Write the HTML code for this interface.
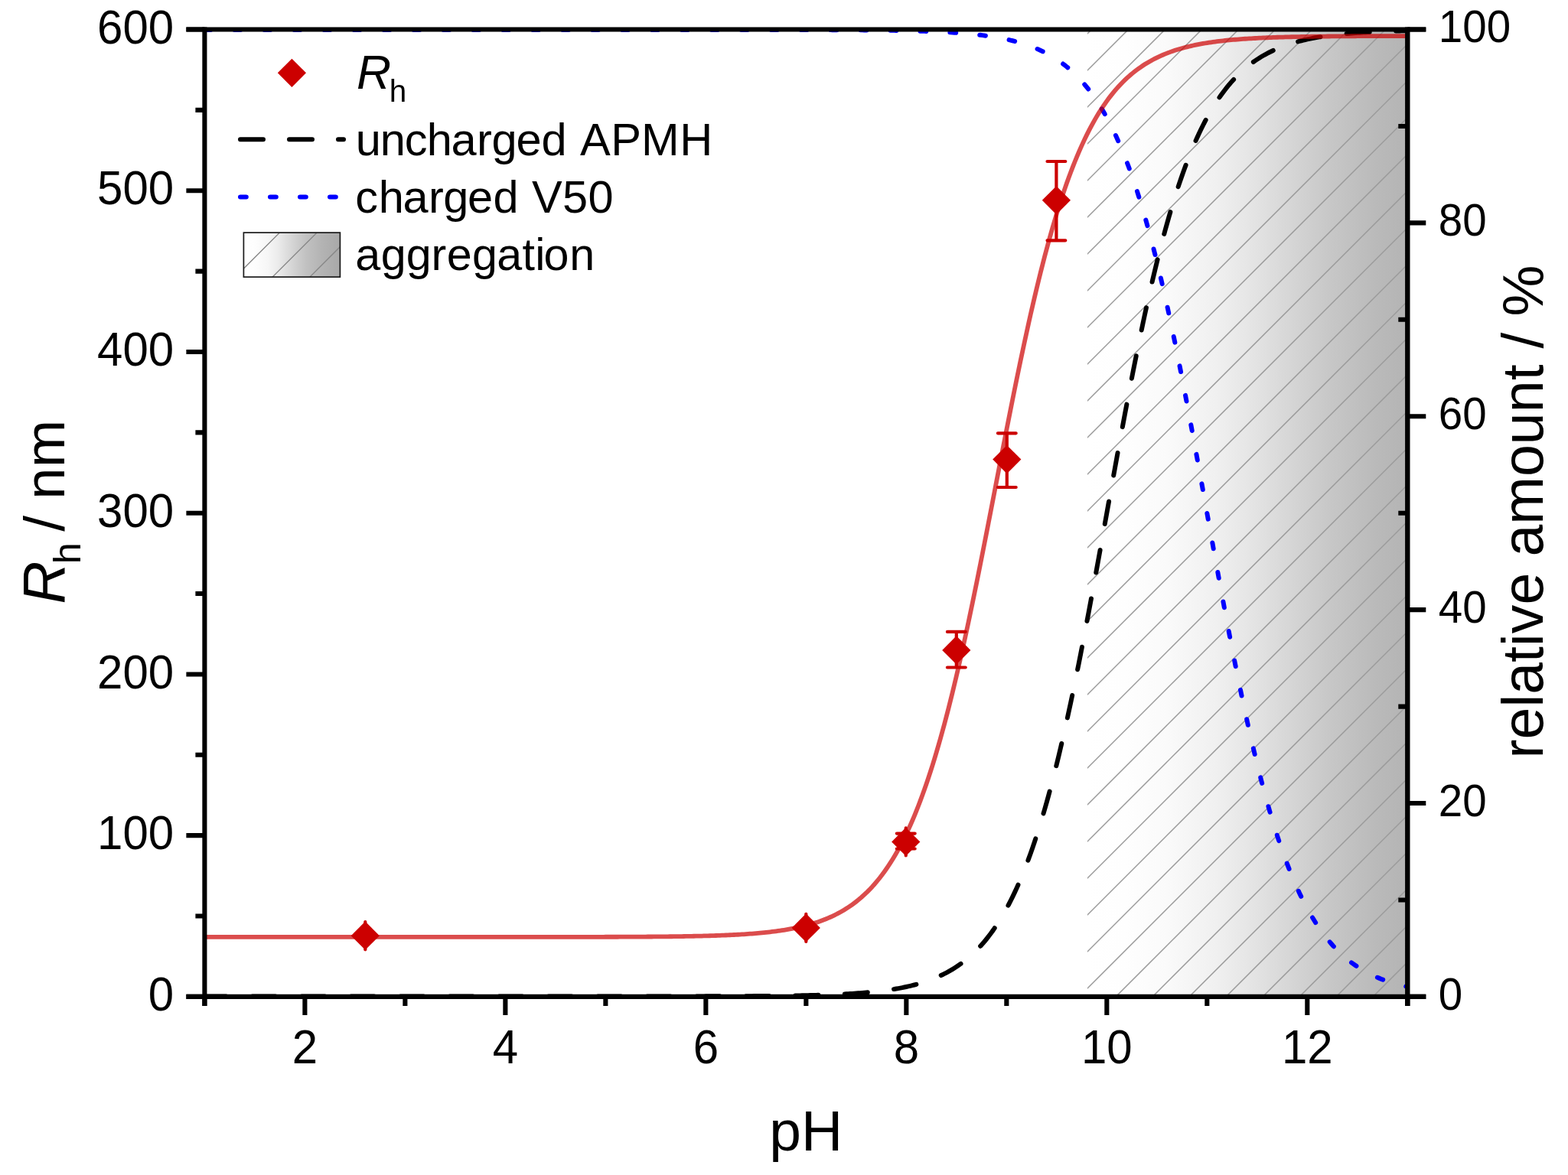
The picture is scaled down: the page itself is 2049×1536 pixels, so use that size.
<!DOCTYPE html>
<html lang="en"><head><meta charset="utf-8"><title>Rh vs pH</title>
<style>html,body{margin:0;padding:0;background:#fff}body{width:2049px;height:1536px}svg{display:block}text{font-family:"Liberation Sans",sans-serif;fill:#000}</style>
</head><body>
<svg width="2049" height="1536" viewBox="0 0 2049 1536">
<defs>
<linearGradient id="g" x1="0" y1="0" x2="1" y2="0"><stop offset="0" stop-color="#ffffff"/><stop offset="0.12" stop-color="#fefefe"/><stop offset="0.25" stop-color="#fafafa"/><stop offset="0.4" stop-color="#f0f0f0"/><stop offset="0.5" stop-color="#e6e6e6"/><stop offset="0.6" stop-color="#dadada"/><stop offset="0.75" stop-color="#c8c8c8"/><stop offset="0.9" stop-color="#bababa"/><stop offset="1" stop-color="#b4b4b4"/></linearGradient>
<linearGradient id="g2" x1="0" y1="0" x2="1" y2="0"><stop offset="0" stop-color="#ffffff"/><stop offset="0.12" stop-color="#fdfdfd"/><stop offset="0.25" stop-color="#f6f6f6"/><stop offset="0.35" stop-color="#ececec"/><stop offset="0.45" stop-color="#dddddd"/><stop offset="0.55" stop-color="#cecece"/><stop offset="0.65" stop-color="#c1c1c1"/><stop offset="0.8" stop-color="#b4b4b4"/><stop offset="1" stop-color="#a8a8a8"/></linearGradient>
<clipPath id="cp"><rect x="1421" y="38.5" width="418.3" height="1264.4"/></clipPath>
<clipPath id="cl"><rect x="318.4" y="304.1" width="126" height="58"/></clipPath>
<clipPath id="plot"><rect x="267.4" y="35.5" width="1571.9" height="1270.4"/></clipPath>
</defs>
<rect width="2049" height="1536" fill="#fff"/>
<rect x="1421" y="38.5" width="418.3" height="1264.4" fill="url(#g)"/>
<g clip-path="url(#cp)" stroke="#9a9a9a" stroke-width="1.5" fill="none">
<path d="M1419 -50 L1841.3 -472.3 M1419 -2 L1841.3 -424.3 M1419 46 L1841.3 -376.3 M1419 94 L1841.3 -328.3 M1419 142 L1841.3 -280.3 M1419 190 L1841.3 -232.3 M1419 238 L1841.3 -184.3 M1419 286 L1841.3 -136.3 M1419 334 L1841.3 -88.3 M1419 382 L1841.3 -40.3 M1419 430 L1841.3 7.7 M1419 478 L1841.3 55.7 M1419 526 L1841.3 103.7 M1419 574 L1841.3 151.7 M1419 622 L1841.3 199.7 M1419 670 L1841.3 247.7 M1419 718 L1841.3 295.7 M1419 766 L1841.3 343.7 M1419 814 L1841.3 391.7 M1419 862 L1841.3 439.7 M1419 910 L1841.3 487.7 M1419 958 L1841.3 535.7 M1419 1006 L1841.3 583.7 M1419 1054 L1841.3 631.7 M1419 1102 L1841.3 679.7 M1419 1150 L1841.3 727.7 M1419 1198 L1841.3 775.7 M1419 1246 L1841.3 823.7 M1419 1294 L1841.3 871.7 M1419 1342 L1841.3 919.7 M1419 1390 L1841.3 967.7 M1419 1438 L1841.3 1015.7 M1419 1486 L1841.3 1063.7 M1419 1534 L1841.3 1111.7 M1419 1582 L1841.3 1159.7 M1419 1630 L1841.3 1207.7 M1419 1678 L1841.3 1255.7 M1419 1726 L1841.3 1303.7"/>
</g>
<g fill="none" stroke-linecap="round" stroke-linejoin="round" clip-path="url(#plot)">
<path d="M267.4 38.9 L270.02 38.9 L272.64 38.9 L275.26 38.9 L277.88 38.9 L280.5 38.9 L283.12 38.9 L285.74 38.9 L288.36 38.9 L290.98 38.9 L293.6 38.9 L296.22 38.9 L298.84 38.9 L301.46 38.9 L304.08 38.9 L306.7 38.9 L309.32 38.9 L311.94 38.9 L314.56 38.9 L317.18 38.9 L319.8 38.9 L322.42 38.9 L325.04 38.9 L327.66 38.9 L330.28 38.9 L332.9 38.9 L335.52 38.9 L338.14 38.9 L340.76 38.9 L343.38 38.9 L346 38.9 L348.61 38.9 L351.23 38.9 L353.85 38.9 L356.47 38.9 L359.09 38.9 L361.71 38.9 L364.33 38.9 L366.95 38.9 L369.57 38.9 L372.19 38.9 L374.81 38.9 L377.43 38.9 L380.05 38.9 L382.67 38.9 L385.29 38.9 L387.91 38.9 L390.53 38.9 L393.15 38.9 L395.77 38.9 L398.39 38.9 L401.01 38.9 L403.63 38.9 L406.25 38.9 L408.87 38.9 L411.49 38.9 L414.11 38.9 L416.73 38.9 L419.35 38.9 L421.97 38.9 L424.59 38.9 L427.21 38.9 L429.83 38.9 L432.45 38.9 L435.07 38.9 L437.69 38.9 L440.31 38.9 L442.93 38.9 L445.55 38.9 L448.17 38.9 L450.79 38.9 L453.41 38.9 L456.03 38.9 L458.65 38.9 L461.27 38.9 L463.89 38.9 L466.51 38.9 L469.13 38.9 L471.75 38.9 L474.37 38.9 L476.99 38.9 L479.61 38.9 L482.23 38.9 L484.85 38.9 L487.47 38.9 L490.09 38.9 L492.71 38.9 L495.33 38.9 L497.95 38.9 L500.57 38.9 L503.18 38.9 L505.8 38.9 L508.42 38.9 L511.04 38.9 L513.66 38.9 L516.28 38.9 L518.9 38.9 L521.52 38.9 L524.14 38.9 L526.76 38.9 L529.38 38.9 L532 38.9 L534.62 38.9 L537.24 38.9 L539.86 38.9 L542.48 38.9 L545.1 38.9 L547.72 38.9 L550.34 38.9 L552.96 38.9 L555.58 38.9 L558.2 38.9 L560.82 38.9 L563.44 38.9 L566.06 38.9 L568.68 38.9 L571.3 38.9 L573.92 38.9 L576.54 38.9 L579.16 38.9 L581.78 38.9 L584.4 38.9 L587.02 38.9 L589.64 38.9 L592.26 38.9 L594.88 38.9 L597.5 38.9 L600.12 38.9 L602.74 38.9 L605.36 38.9 L607.98 38.9 L610.6 38.9 L613.22 38.9 L615.84 38.9 L618.46 38.9 L621.08 38.9 L623.7 38.9 L626.32 38.9 L628.94 38.9 L631.56 38.9 L634.18 38.9 L636.8 38.9 L639.42 38.9 L642.04 38.9 L644.66 38.9 L647.28 38.9 L649.9 38.9 L652.52 38.9 L655.14 38.9 L657.76 38.9 L660.38 38.9 L662.99 38.9 L665.61 38.9 L668.23 38.9 L670.85 38.9 L673.47 38.9 L676.09 38.9 L678.71 38.9 L681.33 38.9 L683.95 38.9 L686.57 38.9 L689.19 38.9 L691.81 38.9 L694.43 38.9 L697.05 38.9 L699.67 38.9 L702.29 38.9 L704.91 38.9 L707.53 38.9 L710.15 38.9 L712.77 38.9 L715.39 38.9 L718.01 38.9 L720.63 38.9 L723.25 38.9 L725.87 38.9 L728.49 38.9 L731.11 38.9 L733.73 38.9 L736.35 38.9 L738.97 38.9 L741.59 38.9 L744.21 38.9 L746.83 38.9 L749.45 38.9 L752.07 38.9 L754.69 38.9 L757.31 38.9 L759.93 38.9 L762.55 38.9 L765.17 38.9 L767.79 38.9 L770.41 38.9 L773.03 38.9 L775.65 38.9 L778.27 38.9 L780.89 38.9 L783.51 38.9 L786.13 38.9 L788.75 38.9 L791.37 38.9 L793.99 38.9 L796.61 38.9 L799.23 38.9 L801.85 38.9 L804.47 38.9 L807.09 38.9 L809.71 38.9 L812.33 38.9 L814.95 38.9 L817.57 38.9 L820.18 38.9 L822.8 38.9 L825.42 38.9 L828.04 38.9 L830.66 38.9 L833.28 38.9 L835.9 38.9 L838.52 38.9 L841.14 38.9 L843.76 38.9 L846.38 38.9 L849 38.9 L851.62 38.9 L854.24 38.9 L856.86 38.9 L859.48 38.9 L862.1 38.9 L864.72 38.9 L867.34 38.9 L869.96 38.91 L872.58 38.91 L875.2 38.91 L877.82 38.91 L880.44 38.91 L883.06 38.91 L885.68 38.91 L888.3 38.91 L890.92 38.91 L893.54 38.91 L896.16 38.91 L898.78 38.91 L901.4 38.91 L904.02 38.91 L906.64 38.91 L909.26 38.91 L911.88 38.91 L914.5 38.91 L917.12 38.91 L919.74 38.91 L922.36 38.91 L924.98 38.91 L927.6 38.91 L930.22 38.91 L932.84 38.92 L935.46 38.92 L938.08 38.92 L940.7 38.92 L943.32 38.92 L945.94 38.92 L948.56 38.92 L951.18 38.92 L953.8 38.92 L956.42 38.92 L959.04 38.92 L961.66 38.93 L964.28 38.93 L966.9 38.93 L969.52 38.93 L972.14 38.93 L974.75 38.93 L977.37 38.93 L979.99 38.93 L982.61 38.94 L985.23 38.94 L987.85 38.94 L990.47 38.94 L993.09 38.94 L995.71 38.95 L998.33 38.95 L1000.95 38.95 L1003.57 38.95 L1006.19 38.96 L1008.81 38.96 L1011.43 38.96 L1014.05 38.96 L1016.67 38.97 L1019.29 38.97 L1021.91 38.97 L1024.53 38.98 L1027.15 38.98 L1029.77 38.98 L1032.39 38.99 L1035.01 38.99 L1037.63 39 L1040.25 39 L1042.87 39.01 L1045.49 39.01 L1048.11 39.02 L1050.73 39.02 L1053.35 39.03 L1055.97 39.03 L1058.59 39.04 L1061.21 39.05 L1063.83 39.05 L1066.45 39.06 L1069.07 39.07 L1071.69 39.07 L1074.31 39.08 L1076.93 39.09 L1079.55 39.1 L1082.17 39.11 L1084.79 39.12 L1087.41 39.13 L1090.03 39.14 L1092.65 39.15 L1095.27 39.16 L1097.89 39.18 L1100.51 39.19 L1103.13 39.2 L1105.75 39.22 L1108.37 39.23 L1110.99 39.25 L1113.61 39.26 L1116.23 39.28 L1118.85 39.3 L1121.47 39.32 L1124.09 39.34 L1126.71 39.36 L1129.33 39.38 L1131.95 39.4 L1134.56 39.43 L1137.18 39.45 L1139.8 39.48 L1142.42 39.5 L1145.04 39.53 L1147.66 39.56 L1150.28 39.59 L1152.9 39.63 L1155.52 39.66 L1158.14 39.7 L1160.76 39.73 L1163.38 39.77 L1166 39.81 L1168.62 39.86 L1171.24 39.9 L1173.86 39.95 L1176.48 40 L1179.1 40.05 L1181.72 40.11 L1184.34 40.16 L1186.96 40.22 L1189.58 40.28 L1192.2 40.35 L1194.82 40.42 L1197.44 40.49 L1200.06 40.56 L1202.68 40.64 L1205.3 40.72 L1207.92 40.81 L1210.54 40.9 L1213.16 40.99 L1215.78 41.09 L1218.4 41.2 L1221.02 41.3 L1223.64 41.42 L1226.26 41.53 L1228.88 41.66 L1231.5 41.79 L1234.12 41.92 L1236.74 42.07 L1239.36 42.21 L1241.98 42.37 L1244.6 42.53 L1247.22 42.7 L1249.84 42.88 L1252.46 43.07 L1255.08 43.27 L1257.7 43.47 L1260.32 43.69 L1262.94 43.91 L1265.56 44.15 L1268.18 44.39 L1270.8 44.65 L1273.42 44.92 L1276.04 45.2 L1278.66 45.5 L1281.28 45.81 L1283.9 46.13 L1286.52 46.47 L1289.14 46.82 L1291.75 47.19 L1294.37 47.58 L1296.99 47.99 L1299.61 48.41 L1302.23 48.86 L1304.85 49.32 L1307.47 49.81 L1310.09 50.32 L1312.71 50.85 L1315.33 51.41 L1317.95 51.99 L1320.57 52.6 L1323.19 53.24 L1325.81 53.91 L1328.43 54.61 L1331.05 55.34 L1333.67 56.11 L1336.29 56.9 L1338.91 57.74 L1341.53 58.61 L1344.15 59.53 L1346.77 60.48 L1349.39 61.48 L1352.01 62.53 L1354.63 63.62 L1357.25 64.76 L1359.87 65.95 L1362.49 67.2 L1365.11 68.5 L1367.73 69.86 L1370.35 71.28 L1372.97 72.77 L1375.59 74.32 L1378.21 75.94 L1380.83 77.63 L1383.45 79.4 L1386.07 81.25 L1388.69 83.17 L1391.31 85.18 L1393.93 87.28 L1396.55 89.47 L1399.17 91.75 L1401.79 94.13 L1404.41 96.62 L1407.03 99.21 L1409.65 101.91 L1412.27 104.72 L1414.89 107.66 L1417.51 110.71 L1420.13 113.9 L1422.75 117.21 L1425.37 120.66 L1427.99 124.26 L1430.61 128 L1433.23 131.89 L1435.85 135.93 L1438.47 140.14 L1441.09 144.51 L1443.71 149.05 L1446.32 153.77 L1448.94 158.67 L1451.56 163.76 L1454.18 169.04 L1456.8 174.51 L1459.42 180.19 L1462.04 186.07 L1464.66 192.17 L1467.28 198.48 L1469.9 205.01 L1472.52 211.77 L1475.14 218.76 L1477.76 225.98 L1480.38 233.44 L1483 241.14 L1485.62 249.08 L1488.24 257.28 L1490.86 265.72 L1493.48 274.42 L1496.1 283.37 L1498.72 292.58 L1501.34 302.05 L1503.96 311.77 L1506.58 321.75 L1509.2 331.99 L1511.82 342.48 L1514.44 353.23 L1517.06 364.23 L1519.68 375.48 L1522.3 386.97 L1524.92 398.71 L1527.54 410.67 L1530.16 422.87 L1532.78 435.29 L1535.4 447.93 L1538.02 460.77 L1540.64 473.81 L1543.26 487.03 L1545.88 500.44 L1548.5 514.01 L1551.12 527.74 L1553.74 541.61 L1556.36 555.62 L1558.98 569.74 L1561.6 583.96 L1564.22 598.28 L1566.84 612.67 L1569.46 627.13 L1572.08 641.63 L1574.7 656.15 L1577.32 670.7 L1579.94 685.25 L1582.56 699.77 L1585.18 714.27 L1587.8 728.73 L1590.42 743.12 L1593.04 757.44 L1595.66 771.66 L1598.28 785.78 L1600.9 799.79 L1603.51 813.66 L1606.13 827.39 L1608.75 840.96 L1611.37 854.37 L1613.99 867.59 L1616.61 880.63 L1619.23 893.47 L1621.85 906.11 L1624.47 918.53 L1627.09 930.73 L1629.71 942.69 L1632.33 954.43 L1634.95 965.92 L1637.57 977.17 L1640.19 988.17 L1642.81 998.92 L1645.43 1009.41 L1648.05 1019.65 L1650.67 1029.63 L1653.29 1039.35 L1655.91 1048.82 L1658.53 1058.03 L1661.15 1066.98 L1663.77 1075.68 L1666.39 1084.12 L1669.01 1092.32 L1671.63 1100.26 L1674.25 1107.96 L1676.87 1115.42 L1679.49 1122.64 L1682.11 1129.63 L1684.73 1136.39 L1687.35 1142.92 L1689.97 1149.23 L1692.59 1155.33 L1695.21 1161.21 L1697.83 1166.89 L1700.45 1172.36 L1703.07 1177.64 L1705.69 1182.73 L1708.31 1187.63 L1710.93 1192.35 L1713.55 1196.89 L1716.17 1201.26 L1718.79 1205.47 L1721.41 1209.51 L1724.03 1213.4 L1726.65 1217.14 L1729.27 1220.74 L1731.89 1224.19 L1734.51 1227.5 L1737.13 1230.69 L1739.75 1233.74 L1742.37 1236.68 L1744.99 1239.49 L1747.61 1242.19 L1750.23 1244.78 L1752.85 1247.27 L1755.47 1249.65 L1758.09 1251.93 L1760.7 1254.12 L1763.32 1256.22 L1765.94 1258.23 L1768.56 1260.15 L1771.18 1262 L1773.8 1263.77 L1776.42 1265.46 L1779.04 1267.08 L1781.66 1268.63 L1784.28 1270.12 L1786.9 1271.54 L1789.52 1272.9 L1792.14 1274.2 L1794.76 1275.45 L1797.38 1276.64 L1800 1277.78 L1802.62 1278.87 L1805.24 1279.92 L1807.86 1280.92 L1810.48 1281.87 L1813.1 1282.79 L1815.72 1283.66 L1818.34 1284.5 L1820.96 1285.29 L1823.58 1286.06 L1826.2 1286.79 L1828.82 1287.49 L1831.44 1288.16 L1834.06 1288.8 L1836.68 1289.41 L1839.3 1289.99" stroke="#0000ff" stroke-width="6" stroke-dasharray="7.8 31.25 7.8 31.25 7.8 31.25 7.8 31.25 7.8 31.25 7.8 31.14 7.8 31.14 7.8 31.14 7.8 31.14 7.8 31.14 7.8 31.14 7.8 31.14 7.8 31.14 7.8 31.14 7.8 31.14 7.8 31.14 7.8 31.14 7.8 31.14 7.8 31.14 7.8 31.14 7.8 31.14 7.8 31.14 7.8 31.14 7.8 31.14 7.8 31.14 7.8 31.14 7.8 31.14 7.8 31.14 7.8 31.14 7.8 31.14 7.8 31.37 7.8 31.37 7.8 31.37 7.8 31.37 7.8 31.37 7.8 31.37 7.8 31.37 7.8 31.37 7.8 31.37 7.8 31.37 7.8 31.37 7.8 31.37 7.8 31.37 7.8 31.37 7.8 31.37 7.8 31.37 7.8 31.37 7.8 31.37 7.8 31.37 7.8 31.37 7.8 31.37 7.8 31.37 7.8 31.37 7.8 31.37 7.8 31.37 7.8 31.37 7.8 31.37 7.8 31.37 7.8 31.37 7.8 31.37 7.8 31.37 7.8 31.37 7.8 31.37 7.8 31.37 7.8 31.37 7.8 31.37 7.8 31.37 7.8 31.37 7.8 31.37 7.8 31.37"/>
<path d="M267.4 1302.5 L270.02 1302.5 L272.64 1302.5 L275.26 1302.5 L277.88 1302.5 L280.5 1302.5 L283.12 1302.5 L285.74 1302.5 L288.36 1302.5 L290.98 1302.5 L293.6 1302.5 L296.22 1302.5 L298.84 1302.5 L301.46 1302.5 L304.08 1302.5 L306.7 1302.5 L309.32 1302.5 L311.94 1302.5 L314.56 1302.5 L317.18 1302.5 L319.8 1302.5 L322.42 1302.5 L325.04 1302.5 L327.66 1302.5 L330.28 1302.5 L332.9 1302.5 L335.52 1302.5 L338.14 1302.5 L340.76 1302.5 L343.38 1302.5 L346 1302.5 L348.61 1302.5 L351.23 1302.5 L353.85 1302.5 L356.47 1302.5 L359.09 1302.5 L361.71 1302.5 L364.33 1302.5 L366.95 1302.5 L369.57 1302.5 L372.19 1302.5 L374.81 1302.5 L377.43 1302.5 L380.05 1302.5 L382.67 1302.5 L385.29 1302.5 L387.91 1302.5 L390.53 1302.5 L393.15 1302.5 L395.77 1302.5 L398.39 1302.5 L401.01 1302.5 L403.63 1302.5 L406.25 1302.5 L408.87 1302.5 L411.49 1302.5 L414.11 1302.5 L416.73 1302.5 L419.35 1302.5 L421.97 1302.5 L424.59 1302.5 L427.21 1302.5 L429.83 1302.5 L432.45 1302.5 L435.07 1302.5 L437.69 1302.5 L440.31 1302.5 L442.93 1302.5 L445.55 1302.5 L448.17 1302.5 L450.79 1302.5 L453.41 1302.5 L456.03 1302.5 L458.65 1302.5 L461.27 1302.5 L463.89 1302.5 L466.51 1302.5 L469.13 1302.5 L471.75 1302.5 L474.37 1302.5 L476.99 1302.5 L479.61 1302.5 L482.23 1302.5 L484.85 1302.5 L487.47 1302.5 L490.09 1302.5 L492.71 1302.5 L495.33 1302.5 L497.95 1302.5 L500.57 1302.5 L503.18 1302.5 L505.8 1302.5 L508.42 1302.5 L511.04 1302.5 L513.66 1302.5 L516.28 1302.5 L518.9 1302.5 L521.52 1302.5 L524.14 1302.5 L526.76 1302.5 L529.38 1302.5 L532 1302.5 L534.62 1302.5 L537.24 1302.5 L539.86 1302.5 L542.48 1302.5 L545.1 1302.5 L547.72 1302.5 L550.34 1302.5 L552.96 1302.5 L555.58 1302.5 L558.2 1302.5 L560.82 1302.5 L563.44 1302.5 L566.06 1302.5 L568.68 1302.5 L571.3 1302.5 L573.92 1302.5 L576.54 1302.5 L579.16 1302.5 L581.78 1302.5 L584.4 1302.5 L587.02 1302.5 L589.64 1302.5 L592.26 1302.5 L594.88 1302.5 L597.5 1302.5 L600.12 1302.5 L602.74 1302.5 L605.36 1302.5 L607.98 1302.5 L610.6 1302.5 L613.22 1302.5 L615.84 1302.5 L618.46 1302.5 L621.08 1302.5 L623.7 1302.5 L626.32 1302.5 L628.94 1302.5 L631.56 1302.5 L634.18 1302.5 L636.8 1302.5 L639.42 1302.5 L642.04 1302.5 L644.66 1302.5 L647.28 1302.5 L649.9 1302.5 L652.52 1302.5 L655.14 1302.5 L657.76 1302.5 L660.38 1302.5 L662.99 1302.5 L665.61 1302.5 L668.23 1302.5 L670.85 1302.5 L673.47 1302.5 L676.09 1302.5 L678.71 1302.5 L681.33 1302.5 L683.95 1302.5 L686.57 1302.5 L689.19 1302.5 L691.81 1302.5 L694.43 1302.5 L697.05 1302.5 L699.67 1302.5 L702.29 1302.5 L704.91 1302.5 L707.53 1302.5 L710.15 1302.5 L712.77 1302.5 L715.39 1302.5 L718.01 1302.5 L720.63 1302.5 L723.25 1302.5 L725.87 1302.5 L728.49 1302.5 L731.11 1302.5 L733.73 1302.5 L736.35 1302.5 L738.97 1302.49 L741.59 1302.49 L744.21 1302.49 L746.83 1302.49 L749.45 1302.49 L752.07 1302.49 L754.69 1302.49 L757.31 1302.49 L759.93 1302.49 L762.55 1302.49 L765.17 1302.49 L767.79 1302.49 L770.41 1302.49 L773.03 1302.49 L775.65 1302.49 L778.27 1302.49 L780.89 1302.49 L783.51 1302.49 L786.13 1302.49 L788.75 1302.49 L791.37 1302.49 L793.99 1302.49 L796.61 1302.49 L799.23 1302.49 L801.85 1302.48 L804.47 1302.48 L807.09 1302.48 L809.71 1302.48 L812.33 1302.48 L814.95 1302.48 L817.57 1302.48 L820.18 1302.48 L822.8 1302.48 L825.42 1302.48 L828.04 1302.48 L830.66 1302.47 L833.28 1302.47 L835.9 1302.47 L838.52 1302.47 L841.14 1302.47 L843.76 1302.47 L846.38 1302.47 L849 1302.47 L851.62 1302.46 L854.24 1302.46 L856.86 1302.46 L859.48 1302.46 L862.1 1302.46 L864.72 1302.45 L867.34 1302.45 L869.96 1302.45 L872.58 1302.45 L875.2 1302.44 L877.82 1302.44 L880.44 1302.44 L883.06 1302.44 L885.68 1302.43 L888.3 1302.43 L890.92 1302.43 L893.54 1302.42 L896.16 1302.42 L898.78 1302.42 L901.4 1302.41 L904.02 1302.41 L906.64 1302.4 L909.26 1302.4 L911.88 1302.39 L914.5 1302.39 L917.12 1302.38 L919.74 1302.38 L922.36 1302.37 L924.98 1302.37 L927.6 1302.36 L930.22 1302.35 L932.84 1302.35 L935.46 1302.34 L938.08 1302.33 L940.7 1302.33 L943.32 1302.32 L945.94 1302.31 L948.56 1302.3 L951.18 1302.29 L953.8 1302.28 L956.42 1302.27 L959.04 1302.26 L961.66 1302.25 L964.28 1302.24 L966.9 1302.22 L969.52 1302.21 L972.14 1302.2 L974.75 1302.18 L977.37 1302.17 L979.99 1302.15 L982.61 1302.14 L985.23 1302.12 L987.85 1302.1 L990.47 1302.08 L993.09 1302.06 L995.71 1302.04 L998.33 1302.02 L1000.95 1302 L1003.57 1301.97 L1006.19 1301.95 L1008.81 1301.92 L1011.43 1301.9 L1014.05 1301.87 L1016.67 1301.84 L1019.29 1301.81 L1021.91 1301.77 L1024.53 1301.74 L1027.15 1301.7 L1029.77 1301.67 L1032.39 1301.63 L1035.01 1301.59 L1037.63 1301.54 L1040.25 1301.5 L1042.87 1301.45 L1045.49 1301.4 L1048.11 1301.35 L1050.73 1301.29 L1053.35 1301.24 L1055.97 1301.18 L1058.59 1301.12 L1061.21 1301.05 L1063.83 1300.98 L1066.45 1300.91 L1069.07 1300.84 L1071.69 1300.76 L1074.31 1300.68 L1076.93 1300.59 L1079.55 1300.5 L1082.17 1300.41 L1084.79 1300.31 L1087.41 1300.2 L1090.03 1300.1 L1092.65 1299.98 L1095.27 1299.87 L1097.89 1299.74 L1100.51 1299.61 L1103.13 1299.48 L1105.75 1299.33 L1108.37 1299.19 L1110.99 1299.03 L1113.61 1298.87 L1116.23 1298.7 L1118.85 1298.52 L1121.47 1298.33 L1124.09 1298.13 L1126.71 1297.93 L1129.33 1297.71 L1131.95 1297.49 L1134.56 1297.25 L1137.18 1297.01 L1139.8 1296.75 L1142.42 1296.48 L1145.04 1296.2 L1147.66 1295.9 L1150.28 1295.59 L1152.9 1295.27 L1155.52 1294.93 L1158.14 1294.58 L1160.76 1294.21 L1163.38 1293.82 L1166 1293.41 L1168.62 1292.99 L1171.24 1292.54 L1173.86 1292.08 L1176.48 1291.59 L1179.1 1291.08 L1181.72 1290.55 L1184.34 1289.99 L1186.96 1289.41 L1189.58 1288.8 L1192.2 1288.16 L1194.82 1287.49 L1197.44 1286.79 L1200.06 1286.06 L1202.68 1285.29 L1205.3 1284.5 L1207.92 1283.66 L1210.54 1282.79 L1213.16 1281.87 L1215.78 1280.92 L1218.4 1279.92 L1221.02 1278.87 L1223.64 1277.78 L1226.26 1276.64 L1228.88 1275.45 L1231.5 1274.2 L1234.12 1272.9 L1236.74 1271.54 L1239.36 1270.12 L1241.98 1268.63 L1244.6 1267.08 L1247.22 1265.46 L1249.84 1263.77 L1252.46 1262 L1255.08 1260.15 L1257.7 1258.23 L1260.32 1256.22 L1262.94 1254.12 L1265.56 1251.93 L1268.18 1249.65 L1270.8 1247.27 L1273.42 1244.78 L1276.04 1242.19 L1278.66 1239.49 L1281.28 1236.68 L1283.9 1233.74 L1286.52 1230.69 L1289.14 1227.5 L1291.75 1224.19 L1294.37 1220.74 L1296.99 1217.14 L1299.61 1213.4 L1302.23 1209.51 L1304.85 1205.47 L1307.47 1201.26 L1310.09 1196.89 L1312.71 1192.35 L1315.33 1187.63 L1317.95 1182.73 L1320.57 1177.64 L1323.19 1172.36 L1325.81 1166.89 L1328.43 1161.21 L1331.05 1155.33 L1333.67 1149.23 L1336.29 1142.92 L1338.91 1136.39 L1341.53 1129.63 L1344.15 1122.64 L1346.77 1115.42 L1349.39 1107.96 L1352.01 1100.26 L1354.63 1092.32 L1357.25 1084.12 L1359.87 1075.68 L1362.49 1066.98 L1365.11 1058.03 L1367.73 1048.82 L1370.35 1039.35 L1372.97 1029.63 L1375.59 1019.65 L1378.21 1009.41 L1380.83 998.92 L1383.45 988.17 L1386.07 977.17 L1388.69 965.92 L1391.31 954.43 L1393.93 942.69 L1396.55 930.73 L1399.17 918.53 L1401.79 906.11 L1404.41 893.47 L1407.03 880.63 L1409.65 867.59 L1412.27 854.37 L1414.89 840.96 L1417.51 827.39 L1420.13 813.66 L1422.75 799.79 L1425.37 785.78 L1427.99 771.66 L1430.61 757.44 L1433.23 743.12 L1435.85 728.73 L1438.47 714.27 L1441.09 699.77 L1443.71 685.25 L1446.32 670.7 L1448.94 656.15 L1451.56 641.63 L1454.18 627.13 L1456.8 612.67 L1459.42 598.28 L1462.04 583.96 L1464.66 569.74 L1467.28 555.62 L1469.9 541.61 L1472.52 527.74 L1475.14 514.01 L1477.76 500.44 L1480.38 487.03 L1483 473.81 L1485.62 460.77 L1488.24 447.93 L1490.86 435.29 L1493.48 422.87 L1496.1 410.67 L1498.72 398.71 L1501.34 386.97 L1503.96 375.48 L1506.58 364.23 L1509.2 353.23 L1511.82 342.48 L1514.44 331.99 L1517.06 321.75 L1519.68 311.77 L1522.3 302.05 L1524.92 292.58 L1527.54 283.37 L1530.16 274.42 L1532.78 265.72 L1535.4 257.28 L1538.02 249.08 L1540.64 241.14 L1543.26 233.44 L1545.88 225.98 L1548.5 218.76 L1551.12 211.77 L1553.74 205.01 L1556.36 198.48 L1558.98 192.17 L1561.6 186.07 L1564.22 180.19 L1566.84 174.51 L1569.46 169.04 L1572.08 163.76 L1574.7 158.67 L1577.32 153.77 L1579.94 149.05 L1582.56 144.51 L1585.18 140.14 L1587.8 135.93 L1590.42 131.89 L1593.04 128 L1595.66 124.26 L1598.28 120.66 L1600.9 117.21 L1603.51 113.9 L1606.13 110.71 L1608.75 107.66 L1611.37 104.72 L1613.99 101.91 L1616.61 99.21 L1619.23 96.62 L1621.85 94.13 L1624.47 91.75 L1627.09 89.47 L1629.71 87.28 L1632.33 85.18 L1634.95 83.17 L1637.57 81.25 L1640.19 79.4 L1642.81 77.63 L1645.43 75.94 L1648.05 74.32 L1650.67 72.77 L1653.29 71.28 L1655.91 69.86 L1658.53 68.5 L1661.15 67.2 L1663.77 65.95 L1666.39 64.76 L1669.01 63.62 L1671.63 62.53 L1674.25 61.48 L1676.87 60.48 L1679.49 59.53 L1682.11 58.61 L1684.73 57.74 L1687.35 56.9 L1689.97 56.11 L1692.59 55.34 L1695.21 54.61 L1697.83 53.91 L1700.45 53.24 L1703.07 52.6 L1705.69 51.99 L1708.31 51.41 L1710.93 50.85 L1713.55 50.32 L1716.17 49.81 L1718.79 49.32 L1721.41 48.86 L1724.03 48.41 L1726.65 47.99 L1729.27 47.58 L1731.89 47.19 L1734.51 46.82 L1737.13 46.47 L1739.75 46.13 L1742.37 45.81 L1744.99 45.5 L1747.61 45.2 L1750.23 44.92 L1752.85 44.65 L1755.47 44.39 L1758.09 44.15 L1760.7 43.91 L1763.32 43.69 L1765.94 43.47 L1768.56 43.27 L1771.18 43.07 L1773.8 42.88 L1776.42 42.7 L1779.04 42.53 L1781.66 42.37 L1784.28 42.21 L1786.9 42.07 L1789.52 41.92 L1792.14 41.79 L1794.76 41.66 L1797.38 41.53 L1800 41.42 L1802.62 41.3 L1805.24 41.2 L1807.86 41.09 L1810.48 40.99 L1813.1 40.9 L1815.72 40.81 L1818.34 40.72 L1820.96 40.64 L1823.58 40.56 L1826.2 40.49 L1828.82 40.42 L1831.44 40.35 L1834.06 40.28 L1836.68 40.22 L1839.3 40.16" stroke="#000" stroke-width="6" stroke-dasharray="30 34.5" stroke-dashoffset="2"/>
</g>
<path d="M267.4 1224.93 L270.02 1224.93 L272.64 1224.93 L275.26 1224.93 L277.88 1224.93 L280.5 1224.93 L283.12 1224.93 L285.74 1224.93 L288.36 1224.93 L290.98 1224.93 L293.6 1224.93 L296.22 1224.93 L298.84 1224.93 L301.46 1224.93 L304.08 1224.93 L306.7 1224.93 L309.32 1224.93 L311.94 1224.93 L314.56 1224.93 L317.18 1224.93 L319.8 1224.93 L322.42 1224.93 L325.04 1224.93 L327.66 1224.93 L330.28 1224.93 L332.9 1224.93 L335.52 1224.93 L338.14 1224.93 L340.76 1224.93 L343.38 1224.93 L346 1224.93 L348.61 1224.93 L351.23 1224.93 L353.85 1224.93 L356.47 1224.93 L359.09 1224.93 L361.71 1224.93 L364.33 1224.93 L366.95 1224.93 L369.57 1224.93 L372.19 1224.93 L374.81 1224.93 L377.43 1224.93 L380.05 1224.93 L382.67 1224.93 L385.29 1224.93 L387.91 1224.93 L390.53 1224.93 L393.15 1224.93 L395.77 1224.93 L398.39 1224.93 L401.01 1224.93 L403.63 1224.93 L406.25 1224.93 L408.87 1224.93 L411.49 1224.93 L414.11 1224.93 L416.73 1224.93 L419.35 1224.93 L421.97 1224.93 L424.59 1224.93 L427.21 1224.93 L429.83 1224.93 L432.45 1224.93 L435.07 1224.93 L437.69 1224.93 L440.31 1224.93 L442.93 1224.93 L445.55 1224.93 L448.17 1224.93 L450.79 1224.93 L453.41 1224.93 L456.03 1224.93 L458.65 1224.93 L461.27 1224.93 L463.89 1224.93 L466.51 1224.93 L469.13 1224.93 L471.75 1224.93 L474.37 1224.93 L476.99 1224.93 L479.61 1224.93 L482.23 1224.93 L484.85 1224.93 L487.47 1224.93 L490.09 1224.93 L492.71 1224.93 L495.33 1224.93 L497.95 1224.93 L500.57 1224.93 L503.18 1224.93 L505.8 1224.93 L508.42 1224.93 L511.04 1224.93 L513.66 1224.93 L516.28 1224.93 L518.9 1224.93 L521.52 1224.93 L524.14 1224.93 L526.76 1224.93 L529.38 1224.93 L532 1224.93 L534.62 1224.93 L537.24 1224.93 L539.86 1224.93 L542.48 1224.93 L545.1 1224.93 L547.72 1224.93 L550.34 1224.93 L552.96 1224.93 L555.58 1224.93 L558.2 1224.93 L560.82 1224.93 L563.44 1224.93 L566.06 1224.93 L568.68 1224.93 L571.3 1224.93 L573.92 1224.93 L576.54 1224.93 L579.16 1224.92 L581.78 1224.92 L584.4 1224.92 L587.02 1224.92 L589.64 1224.92 L592.26 1224.92 L594.88 1224.92 L597.5 1224.92 L600.12 1224.92 L602.74 1224.92 L605.36 1224.92 L607.98 1224.92 L610.6 1224.92 L613.22 1224.92 L615.84 1224.92 L618.46 1224.92 L621.08 1224.92 L623.7 1224.92 L626.32 1224.92 L628.94 1224.92 L631.56 1224.92 L634.18 1224.92 L636.8 1224.92 L639.42 1224.92 L642.04 1224.92 L644.66 1224.92 L647.28 1224.92 L649.9 1224.92 L652.52 1224.92 L655.14 1224.91 L657.76 1224.91 L660.38 1224.91 L662.99 1224.91 L665.61 1224.91 L668.23 1224.91 L670.85 1224.91 L673.47 1224.91 L676.09 1224.91 L678.71 1224.91 L681.33 1224.91 L683.95 1224.91 L686.57 1224.9 L689.19 1224.9 L691.81 1224.9 L694.43 1224.9 L697.05 1224.9 L699.67 1224.9 L702.29 1224.9 L704.91 1224.89 L707.53 1224.89 L710.15 1224.89 L712.77 1224.89 L715.39 1224.89 L718.01 1224.89 L720.63 1224.88 L723.25 1224.88 L725.87 1224.88 L728.49 1224.88 L731.11 1224.88 L733.73 1224.87 L736.35 1224.87 L738.97 1224.87 L741.59 1224.86 L744.21 1224.86 L746.83 1224.86 L749.45 1224.85 L752.07 1224.85 L754.69 1224.85 L757.31 1224.84 L759.93 1224.84 L762.55 1224.84 L765.17 1224.83 L767.79 1224.83 L770.41 1224.82 L773.03 1224.82 L775.65 1224.81 L778.27 1224.81 L780.89 1224.8 L783.51 1224.79 L786.13 1224.79 L788.75 1224.78 L791.37 1224.77 L793.99 1224.77 L796.61 1224.76 L799.23 1224.75 L801.85 1224.74 L804.47 1224.73 L807.09 1224.73 L809.71 1224.72 L812.33 1224.71 L814.95 1224.7 L817.57 1224.68 L820.18 1224.67 L822.8 1224.66 L825.42 1224.65 L828.04 1224.64 L830.66 1224.62 L833.28 1224.61 L835.9 1224.59 L838.52 1224.58 L841.14 1224.56 L843.76 1224.54 L846.38 1224.52 L849 1224.51 L851.62 1224.49 L854.24 1224.46 L856.86 1224.44 L859.48 1224.42 L862.1 1224.4 L864.72 1224.37 L867.34 1224.34 L869.96 1224.32 L872.58 1224.29 L875.2 1224.26 L877.82 1224.23 L880.44 1224.19 L883.06 1224.16 L885.68 1224.12 L888.3 1224.09 L890.92 1224.05 L893.54 1224 L896.16 1223.96 L898.78 1223.92 L901.4 1223.87 L904.02 1223.82 L906.64 1223.77 L909.26 1223.71 L911.88 1223.65 L914.5 1223.59 L917.12 1223.53 L919.74 1223.47 L922.36 1223.4 L924.98 1223.32 L927.6 1223.25 L930.22 1223.17 L932.84 1223.09 L935.46 1223 L938.08 1222.91 L940.7 1222.82 L943.32 1222.72 L945.94 1222.61 L948.56 1222.5 L951.18 1222.39 L953.8 1222.27 L956.42 1222.15 L959.04 1222.02 L961.66 1221.88 L964.28 1221.74 L966.9 1221.59 L969.52 1221.43 L972.14 1221.27 L974.75 1221.09 L977.37 1220.91 L979.99 1220.73 L982.61 1220.53 L985.23 1220.32 L987.85 1220.11 L990.47 1219.88 L993.09 1219.64 L995.71 1219.4 L998.33 1219.14 L1000.95 1218.87 L1003.57 1218.58 L1006.19 1218.29 L1008.81 1217.98 L1011.43 1217.65 L1014.05 1217.31 L1016.67 1216.95 L1019.29 1216.58 L1021.91 1216.19 L1024.53 1215.78 L1027.15 1215.36 L1029.77 1214.91 L1032.39 1214.44 L1035.01 1213.95 L1037.63 1213.44 L1040.25 1212.91 L1042.87 1212.35 L1045.49 1211.76 L1048.11 1211.15 L1050.73 1210.51 L1053.35 1209.84 L1055.97 1209.14 L1058.59 1208.41 L1061.21 1207.64 L1063.83 1206.84 L1066.45 1206 L1069.07 1205.13 L1071.69 1204.21 L1074.31 1203.26 L1076.93 1202.26 L1079.55 1201.21 L1082.17 1200.12 L1084.79 1198.98 L1087.41 1197.79 L1090.03 1196.54 L1092.65 1195.24 L1095.27 1193.88 L1097.89 1192.46 L1100.51 1190.97 L1103.13 1189.42 L1105.75 1187.8 L1108.37 1186.12 L1110.99 1184.35 L1113.61 1182.51 L1116.23 1180.59 L1118.85 1178.59 L1121.47 1176.5 L1124.09 1174.32 L1126.71 1172.04 L1129.33 1169.67 L1131.95 1167.2 L1134.56 1164.62 L1137.18 1161.93 L1139.8 1159.14 L1142.42 1156.22 L1145.04 1153.18 L1147.66 1150.02 L1150.28 1146.73 L1152.9 1143.31 L1155.52 1139.75 L1158.14 1136.04 L1160.76 1132.19 L1163.38 1128.18 L1166 1124.02 L1168.62 1119.7 L1171.24 1115.21 L1173.86 1110.55 L1176.48 1105.71 L1179.1 1100.69 L1181.72 1095.49 L1184.34 1090.1 L1186.96 1084.51 L1189.58 1078.72 L1192.2 1072.73 L1194.82 1066.53 L1197.44 1060.12 L1200.06 1053.5 L1202.68 1046.65 L1205.3 1039.58 L1207.92 1032.29 L1210.54 1024.77 L1213.16 1017.01 L1215.78 1009.02 L1218.4 1000.79 L1221.02 992.33 L1223.64 983.63 L1226.26 974.69 L1228.88 965.51 L1231.5 956.09 L1234.12 946.43 L1236.74 936.53 L1239.36 926.4 L1241.98 916.04 L1244.6 905.45 L1247.22 894.63 L1249.84 883.59 L1252.46 872.34 L1255.08 860.88 L1257.7 849.21 L1260.32 837.35 L1262.94 825.3 L1265.56 813.07 L1268.18 800.67 L1270.8 788.11 L1273.42 775.4 L1276.04 762.55 L1278.66 749.58 L1281.28 736.49 L1283.9 723.29 L1286.52 710.01 L1289.14 696.64 L1291.75 683.22 L1294.37 669.74 L1296.99 656.23 L1299.61 642.7 L1302.23 629.16 L1304.85 615.63 L1307.47 602.12 L1310.09 588.64 L1312.71 575.21 L1315.33 561.85 L1317.95 548.57 L1320.57 535.37 L1323.19 522.28 L1325.81 509.3 L1328.43 496.45 L1331.05 483.75 L1333.67 471.19 L1336.29 458.79 L1338.91 446.56 L1341.53 434.51 L1344.15 422.65 L1346.77 410.98 L1349.39 399.52 L1352.01 388.27 L1354.63 377.23 L1357.25 366.41 L1359.87 355.82 L1362.49 345.46 L1365.11 335.33 L1367.73 325.43 L1370.35 315.77 L1372.97 306.35 L1375.59 297.17 L1378.21 288.23 L1380.83 279.53 L1383.45 271.06 L1386.07 262.84 L1388.69 254.85 L1391.31 247.09 L1393.93 239.57 L1396.55 232.27 L1399.17 225.21 L1401.79 218.36 L1404.41 211.74 L1407.03 205.33 L1409.65 199.13 L1412.27 193.14 L1414.89 187.35 L1417.51 181.76 L1420.13 176.37 L1422.75 171.17 L1425.37 166.15 L1427.99 161.31 L1430.61 156.65 L1433.23 152.16 L1435.85 147.84 L1438.47 143.67 L1441.09 139.67 L1443.71 135.82 L1446.32 132.11 L1448.94 128.55 L1451.56 125.12 L1454.18 121.83 L1456.8 118.67 L1459.42 115.64 L1462.04 112.72 L1464.66 109.92 L1467.28 107.24 L1469.9 104.66 L1472.52 102.19 L1475.14 99.82 L1477.76 97.54 L1480.38 95.36 L1483 93.27 L1485.62 91.27 L1488.24 89.35 L1490.86 87.51 L1493.48 85.74 L1496.1 84.05 L1498.72 82.44 L1501.34 80.89 L1503.96 79.4 L1506.58 77.98 L1509.2 76.62 L1511.82 75.32 L1514.44 74.07 L1517.06 72.88 L1519.68 71.74 L1522.3 70.65 L1524.92 69.6 L1527.54 68.6 L1530.16 67.64 L1532.78 66.73 L1535.4 65.85 L1538.02 65.02 L1540.64 64.22 L1543.26 63.45 L1545.88 62.72 L1548.5 62.02 L1551.12 61.35 L1553.74 60.71 L1556.36 60.09 L1558.98 59.51 L1561.6 58.95 L1564.22 58.41 L1566.84 57.9 L1569.46 57.41 L1572.08 56.95 L1574.7 56.5 L1577.32 56.07 L1579.94 55.67 L1582.56 55.28 L1585.18 54.9 L1587.8 54.55 L1590.42 54.21 L1593.04 53.88 L1595.66 53.57 L1598.28 53.28 L1600.9 52.99 L1603.51 52.72 L1606.13 52.46 L1608.75 52.21 L1611.37 51.98 L1613.99 51.75 L1616.61 51.54 L1619.23 51.33 L1621.85 51.13 L1624.47 50.94 L1627.09 50.76 L1629.71 50.59 L1632.33 50.43 L1634.95 50.27 L1637.57 50.12 L1640.19 49.98 L1642.81 49.84 L1645.43 49.71 L1648.05 49.59 L1650.67 49.47 L1653.29 49.35 L1655.91 49.25 L1658.53 49.14 L1661.15 49.04 L1663.77 48.95 L1666.39 48.86 L1669.01 48.77 L1671.63 48.69 L1674.25 48.61 L1676.87 48.53 L1679.49 48.46 L1682.11 48.39 L1684.73 48.33 L1687.35 48.26 L1689.97 48.2 L1692.59 48.15 L1695.21 48.09 L1697.83 48.04 L1700.45 47.99 L1703.07 47.94 L1705.69 47.9 L1708.31 47.85 L1710.93 47.81 L1713.55 47.77 L1716.17 47.73 L1718.79 47.7 L1721.41 47.66 L1724.03 47.63 L1726.65 47.6 L1729.27 47.57 L1731.89 47.54 L1734.51 47.51 L1737.13 47.49 L1739.75 47.46 L1742.37 47.44 L1744.99 47.42 L1747.61 47.39 L1750.23 47.37 L1752.85 47.35 L1755.47 47.33 L1758.09 47.32 L1760.7 47.3 L1763.32 47.28 L1765.94 47.27 L1768.56 47.25 L1771.18 47.24 L1773.8 47.22 L1776.42 47.21 L1779.04 47.2 L1781.66 47.18 L1784.28 47.17 L1786.9 47.16 L1789.52 47.15 L1792.14 47.14 L1794.76 47.13 L1797.38 47.12 L1800 47.11 L1802.62 47.11 L1805.24 47.1 L1807.86 47.09 L1810.48 47.08 L1813.1 47.08 L1815.72 47.07 L1818.34 47.06 L1820.96 47.06 L1823.58 47.05 L1826.2 47.05 L1828.82 47.04 L1831.44 47.04 L1834.06 47.03 L1836.68 47.03 L1839.3 47.02" fill="none" stroke="#cc0000" stroke-opacity="0.7" stroke-width="5.8" stroke-linejoin="round"/>
<g stroke="#cc0000" stroke-width="4.2" stroke-linecap="round" fill="#cc0000">
<path d="M477.3 1205.1 V1241.3" fill="none"/>
<path d="M458.7 1223.2 L477.3 1204.6 L495.9 1223.2 L477.3 1241.8 Z" stroke="none"/>
<path d="M1053.3 1194.8 V1231" fill="none"/>
<path d="M1034.7 1212.9 L1053.3 1194.3 L1071.9 1212.9 L1053.3 1231.5 Z" stroke="none"/>
<path d="M1183.75 1082.3 V1118.5 M1171.85 1089.6 H1195.65 M1171.85 1109.5 H1195.65" fill="none"/>
<path d="M1165.15 1100.4 L1183.75 1081.8 L1202.35 1100.4 L1183.75 1119 Z" stroke="none"/>
<path d="M1249.8 825.9 V872.5 M1237.9 825.9 H1261.7 M1237.9 872.5 H1261.7" fill="none"/>
<path d="M1231.2 849.9 L1249.8 831.3 L1268.4 849.9 L1249.8 868.5 Z" stroke="none"/>
<path d="M1315.8 566.3 V637 M1303.9 566.3 H1327.7 M1303.9 637 H1327.7" fill="none"/>
<path d="M1297.2 600.6 L1315.8 582 L1334.4 600.6 L1315.8 619.2 Z" stroke="none"/>
<path d="M1380.4 211 V314.3 M1368.5 211 H1392.3 M1368.5 314.3 H1392.3" fill="none"/>
<path d="M1361.8 261.8 L1380.4 243.2 L1399 261.8 L1380.4 280.4 Z" stroke="none"/>
</g>
<g stroke="#000" stroke-width="6.1" fill="none" stroke-linecap="butt">
<path d="M243.4 38.5 H1863.3"/>
<path d="M243.4 1302.9 H1863.3"/>
<path d="M267.4 35.5 V1314.9"/>
<path d="M1839.3 35.5 V1314.9" stroke-width="6.4"/>
<path d="M243.4 1302.9 H267.4 M255.4 1197.53 H267.4 M243.4 1092.17 H267.4 M255.4 986.8 H267.4 M243.4 881.43 H267.4 M255.4 776.07 H267.4 M243.4 670.7 H267.4 M255.4 565.33 H267.4 M243.4 459.97 H267.4 M255.4 354.6 H267.4 M243.4 249.23 H267.4 M255.4 143.87 H267.4 M243.4 38.5 H267.4 M1839.3 1302.9 H1863.3 M1827.3 1176.46 H1839.3 M1839.3 1050.02 H1863.3 M1827.3 923.58 H1839.3 M1839.3 797.14 H1863.3 M1827.3 670.7 H1839.3 M1839.3 544.26 H1863.3 M1827.3 417.82 H1839.3 M1839.3 291.38 H1863.3 M1827.3 164.94 H1839.3 M1839.3 38.5 H1863.3 M267.4 1302.9 V1314.9 M398.39 1302.9 V1326.9 M529.38 1302.9 V1314.9 M660.38 1302.9 V1326.9 M791.37 1302.9 V1314.9 M922.36 1302.9 V1326.9 M1053.35 1302.9 V1314.9 M1184.34 1302.9 V1326.9 M1315.33 1302.9 V1314.9 M1446.32 1302.9 V1326.9 M1577.32 1302.9 V1314.9 M1708.31 1302.9 V1326.9 M1839.3 1302.9 V1314.9"/>
</g>
<text transform="translate(227.2 1321) scale(1 1.047)" font-size="60" text-anchor="end">0</text>
<text transform="translate(227.2 1110.27) scale(1 1.047)" font-size="60" text-anchor="end">100</text>
<text transform="translate(227.2 899.53) scale(1 1.047)" font-size="60" text-anchor="end">200</text>
<text transform="translate(227.2 688.8) scale(1 1.047)" font-size="60" text-anchor="end">300</text>
<text transform="translate(227.2 478.07) scale(1 1.047)" font-size="60" text-anchor="end">400</text>
<text transform="translate(227.2 267.33) scale(1 1.047)" font-size="60" text-anchor="end">500</text>
<text transform="translate(227.2 56.6) scale(1 1.047)" font-size="60" text-anchor="end">600</text>
<text transform="translate(1879.8 1319.8) scale(1 1.056)" font-size="56.5">0</text>
<text transform="translate(1879.8 1066.92) scale(1 1.056)" font-size="56.5">20</text>
<text transform="translate(1879.8 814.04) scale(1 1.056)" font-size="56.5">40</text>
<text transform="translate(1879.8 561.16) scale(1 1.056)" font-size="56.5">60</text>
<text transform="translate(1879.8 308.28) scale(1 1.056)" font-size="56.5">80</text>
<text transform="translate(1879.8 55.4) scale(1 1.056)" font-size="56.5">100</text>
<text transform="translate(398.39 1389.9) scale(1 1.047)" font-size="60" text-anchor="middle">2</text>
<text transform="translate(660.38 1389.9) scale(1 1.047)" font-size="60" text-anchor="middle">4</text>
<text transform="translate(922.36 1389.9) scale(1 1.047)" font-size="60" text-anchor="middle">6</text>
<text transform="translate(1184.34 1389.9) scale(1 1.047)" font-size="60" text-anchor="middle">8</text>
<text transform="translate(1446.32 1389.9) scale(1 1.047)" font-size="60" text-anchor="middle">10</text>
<text transform="translate(1708.31 1389.9) scale(1 1.047)" font-size="60" text-anchor="middle">12</text>
<text transform="translate(1053.3 1503.8)" font-size="75" text-anchor="middle">pH</text>
<text transform="translate(84 789.7) rotate(-90)" font-size="75"><tspan font-style="italic" font-size="77.8">R</tspan><tspan font-size="50.5" x="52.45" dy="20.9">h </tspan><tspan x="95" dy="-20.9">/ nm</tspan></text>
<text transform="translate(2016.1 991.6) rotate(-90)" font-size="75.15" letter-spacing="0.1">relative amount / %</text>
<path d="M362.8 95.3 L381.4 76.7 L400 95.3 L381.4 113.9 Z" fill="#cc0000"/>
<text x="466" y="115.9" font-size="60"><tspan font-style="italic" font-size="62.4">R</tspan><tspan font-size="40.5" x="508.7" dy="17.1">h</tspan></text>
<path d="M314 182.2 H449" stroke="#000" stroke-width="6" stroke-linecap="round" stroke-dasharray="30 34" fill="none"/>
<text x="464.8 496.84 528.68 557.78 589.42 623.06 642.6 674.44 707.4 740.54 757.91 798.36 838.11 888.35" y="203.1" font-size="59.6">uncharged APMH</text>
<path d="M314 257.4 H440" stroke="#0000ff" stroke-width="6" stroke-linecap="round" stroke-dasharray="7.8 31.2" fill="none"/>
<text x="464.3 494.85 526.53 559.92 579.13 611.03 644.42 677.52 695.05 734.93 768.41" y="277.8" font-size="59.5">charged V50</text>
<rect x="318.4" y="304.1" width="126" height="58" fill="url(#g2)"/>
<g clip-path="url(#cl)" stroke="#858585" stroke-width="1.3" fill="none"><path d="M310 359.5 L370 299.5 M350 368.2 L420 298.2 M400 367 L450 317"/></g>
<rect x="318.4" y="304.1" width="126" height="58" fill="none" stroke="#1a1a1a" stroke-width="1.7"/>
<text x="464.3 497.84 530.79 563.54 583.78 616.93 649.18 682.44 699.19 710.56 744.32" y="353" font-size="59.25">aggregation</text>
</svg>
</body></html>
